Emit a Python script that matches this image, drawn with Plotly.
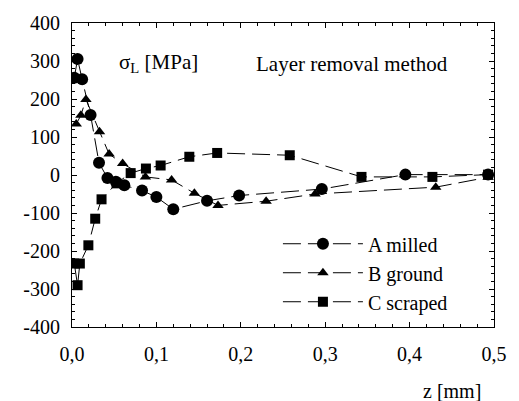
import plotly.graph_objects as go

# Data (z in mm, sigma_L in MPa)
a_z = [0.0027, 0.0066, 0.012, 0.022, 0.032, 0.042, 0.052, 0.062, 0.083, 0.100, 0.120, 0.160, 0.198, 0.296, 0.395, 0.493]
a_s = [256, 305, 252, 158, 32, -8, -18, -27, -41, -58, -90, -68, -54, -37, 1, 1]

b_z = [0.0050, 0.0105, 0.0165, 0.0326, 0.044, 0.060, 0.087, 0.118, 0.145, 0.173, 0.230, 0.288, 0.431, 0.493]
b_s = [134, 157, 199, 114, 55, 30, -5, -13, -48, -80, -69, -50, -32, -6]

c_z = [0.0027, 0.0066, 0.0093, 0.0194, 0.0275, 0.0350, 0.0527, 0.0695, 0.0876, 0.105, 0.139, 0.172, 0.258, 0.343, 0.427, 0.493]
c_s = [-233, -290, -233, -185, -115, -64, -22, 5, 17, 25, 48, 58, 52, -5, -5, 1]

names = ["A milled", "B ground", "C scraped"]
symbols = ["circle", "triangle-up", "square"]
sizes = [12, 10, 10]

x_tickvals = [0.0, 0.1, 0.2, 0.3, 0.4, 0.5]
x_ticktext = ["0,0", "0,1", "0,2", "0,3", "0,4", "0,5"]
y_tickvals = [-400, -300, -200, -100, 0, 100, 200, 300, 400]
y_ticktext = ["-400", "-300", "-200", "-100", "0", "100", "200", "300", "400"]

FONT = "Liberation Serif"

fig = go.Figure()
for zs, ss, nm, sym, sz in zip([a_z, b_z, c_z], [a_s, b_s, c_s], names, symbols, sizes):
    fig.add_trace(go.Scatter(
        x=zs, y=ss, name=nm, mode="lines+markers",
        line=dict(color="black", width=1, dash="18px,7px"),
        marker=dict(symbol=sym, size=sz, color="black"),
    ))

axis_common = dict(
    showgrid=False, zeroline=False, showline=True, linecolor="black", linewidth=1,
    mirror="allticks", ticks="inside", ticklen=5, tickcolor="black", tickwidth=1,
    tickfont=dict(family=FONT, size=20, color="black"),
)
fig.update_xaxes(range=[0, 0.5], tickvals=x_tickvals, ticktext=x_ticktext,
                 minor=dict(dtick=0.02, ticks="inside", ticklen=3, tickcolor="black"),
                 ticklabelstandoff=9, **axis_common)
fig.update_yaxes(range=[-400, 400], tickvals=y_tickvals, ticktext=y_ticktext,
                 minor=dict(dtick=20, ticks="inside", ticklen=3, tickcolor="black"),
                 ticklabelstandoff=7, **axis_common)

fig.add_annotation(text="σ<sub>L</sub> [MPa]", xref="x", yref="y", x=0.053, y=295,
                   xanchor="left", yanchor="middle", showarrow=False,
                   font=dict(family=FONT, size=21, color="black"))
fig.add_annotation(text="Layer removal method", xref="x", yref="y", x=0.216, y=291,
                   xanchor="left", yanchor="middle", showarrow=False,
                   font=dict(family=FONT, size=21, color="black"))
fig.add_annotation(text="z [mm]", xref="paper", yref="paper", x=0.9, y=-0.21,
                   xanchor="center", yanchor="middle", showarrow=False,
                   font=dict(family=FONT, size=20, color="black"))

fig.update_layout(
    width=519, height=401,
    margin=dict(l=72, r=17, t=17, b=74),
    paper_bgcolor="white", plot_bgcolor="white",
    showlegend=True,
    legend=dict(x=0.488, y=0.338, xanchor="left", yanchor="top",
                bgcolor="rgba(0,0,0,0)", font=dict(family=FONT, size=20, color="black"),
                itemwidth=80),
)

fig.write_html("out.html")
